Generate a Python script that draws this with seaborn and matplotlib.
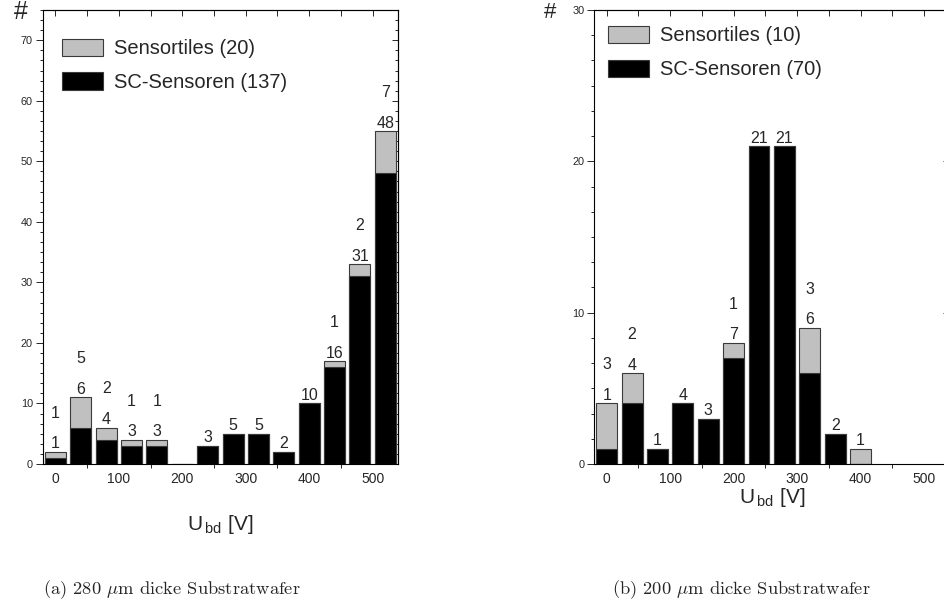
import numpy as np
import matplotlib
matplotlib.use("Agg")
import matplotlib.pyplot as plt
from matplotlib.patches import Patch
from matplotlib.ticker import MultipleLocator, AutoMinorLocator
import seaborn as sns

sns.set_style("ticks")
plt.rcParams["font.family"] = ["Liberation Sans", "DejaVu Sans"]

# (a) 280 um Substratwafer
bins_a = [0, 40, 80, 120, 160, 200, 240, 280, 320, 360, 400, 440, 480, 520]
sc_a = [1, 6, 4, 3, 3, 0, 3, 5, 5, 2, 10, 16, 31, 48]
tiles_a = [1, 5, 2, 1, 1, 0, 0, 0, 0, 0, 0, 1, 2, 7]

# (b) 200 um Substratwafer
bins_b = [0, 40, 80, 120, 160, 200, 240, 280, 320, 360, 400]
sc_b = [1, 4, 1, 4, 3, 7, 21, 21, 6, 2, 0]
tiles_b = [3, 2, 0, 0, 0, 1, 0, 0, 3, 0, 1]

xticks = [0, 100, 200, 300, 400, 500]
captions = [r"(a) 280 $\mu$m dicke Substratwafer", r"(b) 200 $\mu$m dicke Substratwafer"]

GREY = "#c0c0c0"
EDGE = "#3a3a3a"

fig = plt.figure(figsize=(9.45, 6.16), dpi=100)
ax_a = fig.add_axes([0.0452, 0.2468, 0.376, 0.737])
ax_b = fig.add_axes([0.6286, 0.2468, 0.376, 0.737])


def draw(ax, bins, sc, tiles, ymax, n_tiles, n_sc, leg_anchor):
    total = [s + t for s, t in zip(sc, tiles)]
    sns.barplot(x=bins, y=total, native_scale=True, width=0.825, color=GREY,
                saturation=1, edgecolor=EDGE, linewidth=0.8, errorbar=None, ax=ax)
    sns.barplot(x=bins, y=sc, native_scale=True, width=0.825, color="black",
                saturation=1, edgecolor=EDGE, linewidth=0.8, errorbar=None, ax=ax)

    for x, s, t in zip(bins, sc, tiles):
        top = s + t
        if top == 0:
            continue
        first = s if s > 0 else t
        ax.annotate(str(first), (x, top), xytext=(0, 0.3), textcoords="offset points",
                    ha="center", va="bottom", fontsize=11.5)
        if s > 0 and t > 0:
            ax.annotate(str(t), (x, top), xytext=(0, 22.5), textcoords="offset points",
                        ha="center", va="bottom", fontsize=11.5)

    ax.set_xlim(-20, 540)
    ax.set_ylim(0, ymax)
    ax.set_xticks(xticks)
    ax.set_xticks(np.arange(50, 500, 100), minor=True)
    ax.tick_params(axis="x", which="major", length=0, pad=6, labelsize=10)
    ax.tick_params(axis="x", which="minor", direction="out", length=3, width=0.7)
    ax.yaxis.set_major_locator(MultipleLocator(10))
    ax.yaxis.set_minor_locator(AutoMinorLocator(6))
    ax.tick_params(axis="y", which="major", direction="out", length=5, width=0.7,
                   pad=2, labelsize=7.8)
    ax.tick_params(axis="y", which="minor", direction="out", length=2.5, width=0.7)
    for sp in ax.spines.values():
        sp.set_visible(True)
        sp.set_linewidth(0.8)
        sp.set_color("black")

    top_ax = ax.secondary_xaxis("top")
    top_ax.set_xticks(np.arange(0, 501, 50))
    top_ax.tick_params(direction="in", length=4.5, width=0.7, labeltop=False)
    top_ax.spines["top"].set_linewidth(0.8)
    rgt = ax.secondary_yaxis("right")
    rgt.yaxis.set_major_locator(MultipleLocator(10))
    rgt.yaxis.set_minor_locator(AutoMinorLocator(6))
    rgt.tick_params(which="major", direction="in", length=4.5, width=0.7, labelright=False)
    rgt.tick_params(which="minor", direction="in", length=2.5, width=0.7)
    rgt.spines["right"].set_linewidth(0.8)

    handles = [Patch(facecolor=GREY, edgecolor=EDGE, linewidth=0.8),
               Patch(facecolor="black", edgecolor=EDGE, linewidth=0.8)]
    ax.legend(handles, [f"Sensortiles ({n_tiles})", f"SC-Sensoren ({n_sc})"],
              loc="upper left", bbox_to_anchor=leg_anchor, frameon=False,
              fontsize=14.5, handlelength=2.05, handleheight=0.95,
              handletextpad=0.55, labelspacing=0.7, borderpad=0, borderaxespad=0)
    ax.set_ylabel("")


draw(ax_a, bins_a, sc_a, tiles_a, 75, sum(tiles_a), sum(sc_a), (0.054, 0.937))
draw(ax_b, bins_b, sc_b, tiles_b, 30, sum(tiles_b), sum(sc_b), (0.039, 0.965))

label_font = ["Liberation Sans Narrow", "Liberation Sans", "DejaVu Sans"]
xlab = r"U$_{\,\mathregular{bd}}$ [V]"
ax_a.set_xlabel(xlab, fontsize=15, family=label_font, labelpad=19)
ax_b.set_xlabel(xlab, fontsize=15, family=label_font, labelpad=0)

fig.text(0.0217, 0.981, "#", fontsize=18, ha="center", va="center")
fig.text(0.582, 0.979, "#", fontsize=16, ha="center", va="center")

fig.text(0.182, 0.042, captions[0], fontsize=13.3, family="cmr10", math_fontfamily="cm",
         ha="center", va="center")
fig.text(0.785, 0.042, captions[1], fontsize=13.3, family="cmr10", math_fontfamily="cm",
         ha="center", va="center")

fig.savefig("out.png", dpi=100)
